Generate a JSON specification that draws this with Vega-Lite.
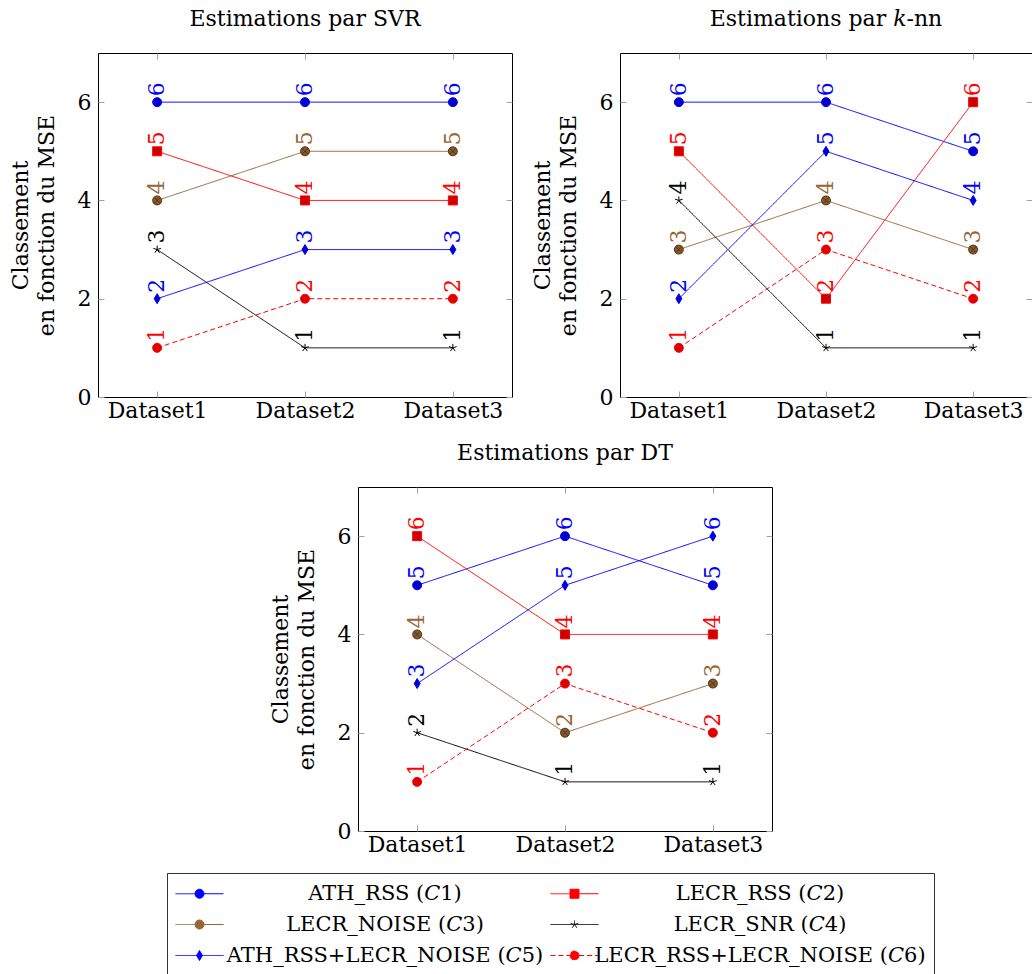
{
  "$schema": "https://vega.github.io/schema/vega-lite/v6.json",
  "padding": {"left": 8, "top": 7, "right": 0, "bottom": 0},
  "background": "white",
  "data": {"values": [
    {"model": "SVR", "dataset": "Dataset1", "serie": "ATH_RSS (𝐶1)", "rank": 6},
    {"model": "SVR", "dataset": "Dataset2", "serie": "ATH_RSS (𝐶1)", "rank": 6},
    {"model": "SVR", "dataset": "Dataset3", "serie": "ATH_RSS (𝐶1)", "rank": 6},
    {"model": "SVR", "dataset": "Dataset1", "serie": "LECR_RSS (𝐶2)", "rank": 5},
    {"model": "SVR", "dataset": "Dataset2", "serie": "LECR_RSS (𝐶2)", "rank": 4},
    {"model": "SVR", "dataset": "Dataset3", "serie": "LECR_RSS (𝐶2)", "rank": 4},
    {"model": "SVR", "dataset": "Dataset1", "serie": "LECR_NOISE (𝐶3)", "rank": 4},
    {"model": "SVR", "dataset": "Dataset2", "serie": "LECR_NOISE (𝐶3)", "rank": 5},
    {"model": "SVR", "dataset": "Dataset3", "serie": "LECR_NOISE (𝐶3)", "rank": 5},
    {"model": "SVR", "dataset": "Dataset1", "serie": "LECR_SNR (𝐶4)", "rank": 3},
    {"model": "SVR", "dataset": "Dataset2", "serie": "LECR_SNR (𝐶4)", "rank": 1},
    {"model": "SVR", "dataset": "Dataset3", "serie": "LECR_SNR (𝐶4)", "rank": 1},
    {"model": "SVR", "dataset": "Dataset1", "serie": "ATH_RSS+LECR_NOISE (𝐶5)", "rank": 2},
    {"model": "SVR", "dataset": "Dataset2", "serie": "ATH_RSS+LECR_NOISE (𝐶5)", "rank": 3},
    {"model": "SVR", "dataset": "Dataset3", "serie": "ATH_RSS+LECR_NOISE (𝐶5)", "rank": 3},
    {"model": "SVR", "dataset": "Dataset1", "serie": "LECR_RSS+LECR_NOISE (𝐶6)", "rank": 1},
    {"model": "SVR", "dataset": "Dataset2", "serie": "LECR_RSS+LECR_NOISE (𝐶6)", "rank": 2},
    {"model": "SVR", "dataset": "Dataset3", "serie": "LECR_RSS+LECR_NOISE (𝐶6)", "rank": 2},
    {"model": "KNN", "dataset": "Dataset1", "serie": "ATH_RSS (𝐶1)", "rank": 6},
    {"model": "KNN", "dataset": "Dataset2", "serie": "ATH_RSS (𝐶1)", "rank": 6},
    {"model": "KNN", "dataset": "Dataset3", "serie": "ATH_RSS (𝐶1)", "rank": 5},
    {"model": "KNN", "dataset": "Dataset1", "serie": "LECR_RSS (𝐶2)", "rank": 5},
    {"model": "KNN", "dataset": "Dataset2", "serie": "LECR_RSS (𝐶2)", "rank": 2},
    {"model": "KNN", "dataset": "Dataset3", "serie": "LECR_RSS (𝐶2)", "rank": 6},
    {"model": "KNN", "dataset": "Dataset1", "serie": "LECR_NOISE (𝐶3)", "rank": 3},
    {"model": "KNN", "dataset": "Dataset2", "serie": "LECR_NOISE (𝐶3)", "rank": 4},
    {"model": "KNN", "dataset": "Dataset3", "serie": "LECR_NOISE (𝐶3)", "rank": 3},
    {"model": "KNN", "dataset": "Dataset1", "serie": "LECR_SNR (𝐶4)", "rank": 4},
    {"model": "KNN", "dataset": "Dataset2", "serie": "LECR_SNR (𝐶4)", "rank": 1},
    {"model": "KNN", "dataset": "Dataset3", "serie": "LECR_SNR (𝐶4)", "rank": 1},
    {"model": "KNN", "dataset": "Dataset1", "serie": "ATH_RSS+LECR_NOISE (𝐶5)", "rank": 2},
    {"model": "KNN", "dataset": "Dataset2", "serie": "ATH_RSS+LECR_NOISE (𝐶5)", "rank": 5},
    {"model": "KNN", "dataset": "Dataset3", "serie": "ATH_RSS+LECR_NOISE (𝐶5)", "rank": 4},
    {"model": "KNN", "dataset": "Dataset1", "serie": "LECR_RSS+LECR_NOISE (𝐶6)", "rank": 1},
    {"model": "KNN", "dataset": "Dataset2", "serie": "LECR_RSS+LECR_NOISE (𝐶6)", "rank": 3},
    {"model": "KNN", "dataset": "Dataset3", "serie": "LECR_RSS+LECR_NOISE (𝐶6)", "rank": 2},
    {"model": "DT", "dataset": "Dataset1", "serie": "ATH_RSS (𝐶1)", "rank": 5},
    {"model": "DT", "dataset": "Dataset2", "serie": "ATH_RSS (𝐶1)", "rank": 6},
    {"model": "DT", "dataset": "Dataset3", "serie": "ATH_RSS (𝐶1)", "rank": 5},
    {"model": "DT", "dataset": "Dataset1", "serie": "LECR_RSS (𝐶2)", "rank": 6},
    {"model": "DT", "dataset": "Dataset2", "serie": "LECR_RSS (𝐶2)", "rank": 4},
    {"model": "DT", "dataset": "Dataset3", "serie": "LECR_RSS (𝐶2)", "rank": 4},
    {"model": "DT", "dataset": "Dataset1", "serie": "LECR_NOISE (𝐶3)", "rank": 4},
    {"model": "DT", "dataset": "Dataset2", "serie": "LECR_NOISE (𝐶3)", "rank": 2},
    {"model": "DT", "dataset": "Dataset3", "serie": "LECR_NOISE (𝐶3)", "rank": 3},
    {"model": "DT", "dataset": "Dataset1", "serie": "LECR_SNR (𝐶4)", "rank": 2},
    {"model": "DT", "dataset": "Dataset2", "serie": "LECR_SNR (𝐶4)", "rank": 1},
    {"model": "DT", "dataset": "Dataset3", "serie": "LECR_SNR (𝐶4)", "rank": 1},
    {"model": "DT", "dataset": "Dataset1", "serie": "ATH_RSS+LECR_NOISE (𝐶5)", "rank": 3},
    {"model": "DT", "dataset": "Dataset2", "serie": "ATH_RSS+LECR_NOISE (𝐶5)", "rank": 5},
    {"model": "DT", "dataset": "Dataset3", "serie": "ATH_RSS+LECR_NOISE (𝐶5)", "rank": 6},
    {"model": "DT", "dataset": "Dataset1", "serie": "LECR_RSS+LECR_NOISE (𝐶6)", "rank": 1},
    {"model": "DT", "dataset": "Dataset2", "serie": "LECR_RSS+LECR_NOISE (𝐶6)", "rank": 3},
    {"model": "DT", "dataset": "Dataset3", "serie": "LECR_RSS+LECR_NOISE (𝐶6)", "rank": 2}
  ]},
  "vconcat": [
    {
      "hconcat": [
        {
          "title": "Estimations par SVR",
          "width": 414, "height": 344,
          "transform": [{"filter": "datum.model === 'SVR'"}],
          "encoding": {
            "x": {"field": "dataset", "type": "ordinal", "scale": {"type": "point", "padding": 0.4}, "axis": null},
            "y": {"field": "rank", "type": "quantitative", "scale": {"domain": [0, 7]}, "axis": null}
          },
          "layer": [
            {"mark": {"type": "line", "strokeWidth": 1},
             "encoding": {
               "x": {"field": "dataset", "type": "ordinal", "axis": {"orient": "bottom", "title": null, "labelAngle": 0, "labelPadding": 9}},
               "y": {"field": "rank", "type": "quantitative", "axis": {"orient": "left", "values": [0, 2, 4, 6], "labelPadding": 13, "title": ["Classement", "en fonction du MSE"], "titlePadding": 19}},
               "stroke": {"field": "serie", "type": "nominal", "scale": {"domain": ["ATH_RSS (𝐶1)", "LECR_RSS (𝐶2)", "LECR_NOISE (𝐶3)", "LECR_SNR (𝐶4)", "ATH_RSS+LECR_NOISE (𝐶5)", "LECR_RSS+LECR_NOISE (𝐶6)"], "range": ["#0000ff", "#ff0000", "#996633", "#000000", "#0000ff", "#ff0000"]}},
               "strokeDash": {"field": "serie", "type": "nominal", "scale": {"domain": ["ATH_RSS (𝐶1)", "LECR_RSS (𝐶2)", "LECR_NOISE (𝐶3)", "LECR_SNR (𝐶4)", "ATH_RSS+LECR_NOISE (𝐶5)", "LECR_RSS+LECR_NOISE (𝐶6)"], "range": [[1, 0], [1, 0], [1, 0], [1, 0], [1, 0], [5, 3]]}}
             }},
            {"transform": [{"filter": {"field": "serie", "equal": "ATH_RSS (𝐶1)"}}],
             "mark": {"type": "point", "size": 100, "strokeWidth": 1, "opacity": 1, "fill": "#0000cc", "stroke": "#0000ff", "fillOpacity": 1, "shape": "M0.9,0A0.9,0.9,0,1,1,-0.9,0A0.9,0.9,0,1,1,0.9,0Z"}},
            {"transform": [{"filter": {"field": "serie", "equal": "LECR_RSS (𝐶2)"}}],
             "mark": {"type": "point", "size": 100, "strokeWidth": 1, "opacity": 1, "fill": "#cc0000", "stroke": "#ff0000", "fillOpacity": 1, "shape": "M-0.9,-0.9H0.9V0.9H-0.9Z"}},
            {"transform": [{"filter": {"field": "serie", "equal": "LECR_NOISE (𝐶3)"}}],
             "mark": {"type": "point", "size": 100, "strokeWidth": 1, "opacity": 1, "fill": "#8b5a2b", "stroke": "#4d3319", "fillOpacity": 1, "shape": "M0.9,0A0.9,0.9,0,1,1,-0.9,0A0.9,0.9,0,1,1,0.9,0ZM-0.64,-0.64L0.64,0.64M-0.64,0.64L0.64,-0.64"}},
            {"transform": [{"filter": {"field": "serie", "equal": "LECR_SNR (𝐶4)"}}],
             "mark": {"type": "point", "size": 100, "strokeWidth": 1, "opacity": 1, "fill": "#000000", "stroke": "#000000", "shape": "M0,0L0,-0.8M0,0L0.76,-0.25M0,0L0.47,0.65M0,0L-0.47,0.65M0,0L-0.76,-0.25"}},
            {"transform": [{"filter": {"field": "serie", "equal": "ATH_RSS+LECR_NOISE (𝐶5)"}}],
             "mark": {"type": "point", "size": 100, "strokeWidth": 1, "opacity": 1, "fill": "#0000cc", "stroke": "#0000ff", "fillOpacity": 1, "shape": "M0,-1L0.6,0L0,1L-0.6,0Z"}},
            {"transform": [{"filter": {"field": "serie", "equal": "LECR_RSS+LECR_NOISE (𝐶6)"}}],
             "mark": {"type": "point", "size": 100, "strokeWidth": 1, "opacity": 1, "fill": "#dd0000", "stroke": "#ff0000", "fillOpacity": 1, "shape": "M0.9,0A0.9,0.9,0,1,1,-0.9,0A0.9,0.9,0,1,1,0.9,0Z"}},
            {"mark": {"type": "text", "angle": 270, "align": "left", "baseline": "middle", "dx": 6, "font": "DejaVu Serif", "fontSize": 22},
             "encoding": {
               "x": {"field": "dataset", "type": "ordinal", "axis": {"orient": "top", "title": null, "labels": false}},
               "y": {"field": "rank", "type": "quantitative", "axis": {"orient": "right", "values": [0, 2, 4, 6], "title": null, "labels": false}},
               "fill": {"field": "serie", "type": "nominal", "scale": {"domain": ["ATH_RSS (𝐶1)", "LECR_RSS (𝐶2)", "LECR_NOISE (𝐶3)", "LECR_SNR (𝐶4)", "ATH_RSS+LECR_NOISE (𝐶5)", "LECR_RSS+LECR_NOISE (𝐶6)"], "range": ["#0000ff", "#ff0000", "#996633", "#000000", "#0000ff", "#ff0000"]}},
               "text": {"field": "rank", "type": "quantitative"}
             }}
          ],
          "resolve": {"axis": {"x": "independent", "y": "independent"}}
        },
        {
          "title": "Estimations par 𝑘-nn",
          "width": 412, "height": 344,
          "transform": [{"filter": "datum.model === 'KNN'"}],
          "encoding": {
            "x": {"field": "dataset", "type": "ordinal", "scale": {"type": "point", "padding": 0.4}, "axis": null},
            "y": {"field": "rank", "type": "quantitative", "scale": {"domain": [0, 7]}, "axis": null}
          },
          "layer": [
            {"mark": {"type": "line", "strokeWidth": 1},
             "encoding": {
               "x": {"field": "dataset", "type": "ordinal", "axis": {"orient": "bottom", "title": null, "labelAngle": 0, "labelPadding": 9}},
               "y": {"field": "rank", "type": "quantitative", "axis": {"orient": "left", "values": [0, 2, 4, 6], "labelPadding": 13, "title": ["Classement", "en fonction du MSE"], "titlePadding": 19}},
               "stroke": {"field": "serie", "type": "nominal"},
               "strokeDash": {"field": "serie", "type": "nominal"}
             }},
            {"transform": [{"filter": {"field": "serie", "equal": "ATH_RSS (𝐶1)"}}],
             "mark": {"type": "point", "size": 100, "strokeWidth": 1, "opacity": 1, "fill": "#0000cc", "stroke": "#0000ff", "fillOpacity": 1, "shape": "M0.9,0A0.9,0.9,0,1,1,-0.9,0A0.9,0.9,0,1,1,0.9,0Z"}},
            {"transform": [{"filter": {"field": "serie", "equal": "LECR_RSS (𝐶2)"}}],
             "mark": {"type": "point", "size": 100, "strokeWidth": 1, "opacity": 1, "fill": "#cc0000", "stroke": "#ff0000", "fillOpacity": 1, "shape": "M-0.9,-0.9H0.9V0.9H-0.9Z"}},
            {"transform": [{"filter": {"field": "serie", "equal": "LECR_NOISE (𝐶3)"}}],
             "mark": {"type": "point", "size": 100, "strokeWidth": 1, "opacity": 1, "fill": "#8b5a2b", "stroke": "#4d3319", "fillOpacity": 1, "shape": "M0.9,0A0.9,0.9,0,1,1,-0.9,0A0.9,0.9,0,1,1,0.9,0ZM-0.64,-0.64L0.64,0.64M-0.64,0.64L0.64,-0.64"}},
            {"transform": [{"filter": {"field": "serie", "equal": "LECR_SNR (𝐶4)"}}],
             "mark": {"type": "point", "size": 100, "strokeWidth": 1, "opacity": 1, "fill": "#000000", "stroke": "#000000", "shape": "M0,0L0,-0.8M0,0L0.76,-0.25M0,0L0.47,0.65M0,0L-0.47,0.65M0,0L-0.76,-0.25"}},
            {"transform": [{"filter": {"field": "serie", "equal": "ATH_RSS+LECR_NOISE (𝐶5)"}}],
             "mark": {"type": "point", "size": 100, "strokeWidth": 1, "opacity": 1, "fill": "#0000cc", "stroke": "#0000ff", "fillOpacity": 1, "shape": "M0,-1L0.6,0L0,1L-0.6,0Z"}},
            {"transform": [{"filter": {"field": "serie", "equal": "LECR_RSS+LECR_NOISE (𝐶6)"}}],
             "mark": {"type": "point", "size": 100, "strokeWidth": 1, "opacity": 1, "fill": "#dd0000", "stroke": "#ff0000", "fillOpacity": 1, "shape": "M0.9,0A0.9,0.9,0,1,1,-0.9,0A0.9,0.9,0,1,1,0.9,0Z"}},
            {"mark": {"type": "text", "angle": 270, "align": "left", "baseline": "middle", "dx": 6, "font": "DejaVu Serif", "fontSize": 22},
             "encoding": {
               "x": {"field": "dataset", "type": "ordinal", "axis": {"orient": "top", "title": null, "labels": false}},
               "y": {"field": "rank", "type": "quantitative", "axis": {"orient": "right", "values": [0, 2, 4, 6], "title": null, "labels": false}},
               "fill": {"field": "serie", "type": "nominal"},
               "text": {"field": "rank", "type": "quantitative"}
             }}
          ],
          "resolve": {"axis": {"x": "independent", "y": "independent"}}
        }
      ],
      "spacing": 17
    },
    {
      "title": "Estimations par DT",
      "width": 414, "height": 344,
      "transform": [{"filter": "datum.model === 'DT'"}],
      "encoding": {
        "x": {"field": "dataset", "type": "ordinal", "scale": {"type": "point", "padding": 0.4}, "axis": null},
        "y": {"field": "rank", "type": "quantitative", "scale": {"domain": [0, 7]}, "axis": null}
      },
      "layer": [
        {"mark": {"type": "line", "strokeWidth": 1},
         "encoding": {
           "x": {"field": "dataset", "type": "ordinal", "axis": {"orient": "bottom", "title": null, "labelAngle": 0, "labelPadding": 9}},
           "y": {"field": "rank", "type": "quantitative", "axis": {"orient": "left", "values": [0, 2, 4, 6], "labelPadding": 13, "title": ["Classement", "en fonction du MSE"], "titlePadding": 19}},
           "stroke": {"field": "serie", "type": "nominal"},
           "strokeDash": {"field": "serie", "type": "nominal"}
         }},
        {"transform": [{"filter": {"field": "serie", "equal": "ATH_RSS (𝐶1)"}}],
         "mark": {"type": "point", "size": 100, "strokeWidth": 1, "opacity": 1, "fill": "#0000cc", "stroke": "#0000ff", "fillOpacity": 1, "shape": "M0.9,0A0.9,0.9,0,1,1,-0.9,0A0.9,0.9,0,1,1,0.9,0Z"}},
        {"transform": [{"filter": {"field": "serie", "equal": "LECR_RSS (𝐶2)"}}],
         "mark": {"type": "point", "size": 100, "strokeWidth": 1, "opacity": 1, "fill": "#cc0000", "stroke": "#ff0000", "fillOpacity": 1, "shape": "M-0.9,-0.9H0.9V0.9H-0.9Z"}},
        {"transform": [{"filter": {"field": "serie", "equal": "LECR_NOISE (𝐶3)"}}],
         "mark": {"type": "point", "size": 100, "strokeWidth": 1, "opacity": 1, "fill": "#8b5a2b", "stroke": "#4d3319", "fillOpacity": 1, "shape": "M0.9,0A0.9,0.9,0,1,1,-0.9,0A0.9,0.9,0,1,1,0.9,0ZM-0.64,-0.64L0.64,0.64M-0.64,0.64L0.64,-0.64"}},
        {"transform": [{"filter": {"field": "serie", "equal": "LECR_SNR (𝐶4)"}}],
         "mark": {"type": "point", "size": 100, "strokeWidth": 1, "opacity": 1, "fill": "#000000", "stroke": "#000000", "shape": "M0,0L0,-0.8M0,0L0.76,-0.25M0,0L0.47,0.65M0,0L-0.47,0.65M0,0L-0.76,-0.25"}},
        {"transform": [{"filter": {"field": "serie", "equal": "ATH_RSS+LECR_NOISE (𝐶5)"}}],
         "mark": {"type": "point", "size": 100, "strokeWidth": 1, "opacity": 1, "fill": "#0000cc", "stroke": "#0000ff", "fillOpacity": 1, "shape": "M0,-1L0.6,0L0,1L-0.6,0Z"}},
        {"transform": [{"filter": {"field": "serie", "equal": "LECR_RSS+LECR_NOISE (𝐶6)"}}],
         "mark": {"type": "point", "size": 100, "strokeWidth": 1, "opacity": 1, "fill": "#dd0000", "stroke": "#ff0000", "fillOpacity": 1, "shape": "M0.9,0A0.9,0.9,0,1,1,-0.9,0A0.9,0.9,0,1,1,0.9,0Z"}},
        {"mark": {"type": "point", "filled": true, "strokeWidth": 1, "opacity": 0},
         "encoding": {
           "shape": {"field": "serie", "type": "nominal",
             "scale": {"domain": ["ATH_RSS (𝐶1)", "LECR_RSS (𝐶2)", "LECR_NOISE (𝐶3)", "LECR_SNR (𝐶4)", "ATH_RSS+LECR_NOISE (𝐶5)", "LECR_RSS+LECR_NOISE (𝐶6)"],
               "range": [
                 "M-1,0H0.625M1.375,0H3M1.375,0A0.375,0.375,0,1,1,0.625,0A0.375,0.375,0,1,1,1.375,0Z",
                 "M-1,0H0.625M1.375,0H3M0.625,-0.375H1.375V0.375H0.625Z",
                 "M-1,0H0.625M1.375,0H3M1.375,0A0.375,0.375,0,1,1,0.625,0A0.375,0.375,0,1,1,1.375,0ZM0.735,-0.265L1.265,0.265M0.735,0.265L1.265,-0.265",
                 "M-1,0H3M1,0L1,-0.33M1,0L1.314,-0.102M1,0L1.194,0.267M1,0L0.806,0.267M1,0L0.686,-0.102",
                 "M-1,0H0.75M1.25,0H3M1,-0.42L1.25,0L1,0.42L0.75,0Z",
                 "M-1,0H0.625M1.375,0H3M1.375,0A0.375,0.375,0,1,1,0.625,0A0.375,0.375,0,1,1,1.375,0Z"]},
             "legend": {"orient": "none", "legendX": 69, "legendY": 820, "direction": "horizontal", "columns": 2}},
           "fill": {"field": "serie", "type": "nominal"},
           "stroke": {"field": "serie", "type": "nominal"}
         }},
        {"mark": {"type": "text", "angle": 270, "align": "left", "baseline": "middle", "dx": 6, "font": "DejaVu Serif", "fontSize": 22},
         "encoding": {
           "x": {"field": "dataset", "type": "ordinal", "axis": {"orient": "top", "title": null, "labels": false}},
           "y": {"field": "rank", "type": "quantitative", "axis": {"orient": "right", "values": [0, 2, 4, 6], "title": null, "labels": false}},
           "fill": {"field": "serie", "type": "nominal"},
           "text": {"field": "rank", "type": "quantitative"}
         }}
      ],
      "resolve": {"axis": {"x": "independent", "y": "independent"}}
    }
  ],
  "spacing": 19,
  "center": true,
  "config": {
    "view": {"stroke": "#000000", "strokeWidth": 1},
    "font": "DejaVu Serif",
    "title": {"font": "DejaVu Serif", "fontSize": 22, "fontWeight": "normal", "color": "#000000", "offset": 22},
    "axis": {"labelFont": "DejaVu Serif", "labelFontSize": 22, "labelColor": "#000000", "titleFont": "DejaVu Serif", "titleFontSize": 22, "titleFontWeight": "normal", "titleColor": "#000000", "titleLineHeight": 26, "tickColor": "#a0a0a0", "tickSize": -6, "domain": false, "grid": false, "labelFlush": false},
    "legend": {
      "orient": "none", "direction": "horizontal",
      "title": null, "columns": 2, "columnPadding": 4, "rowPadding": 8,
      "padding": 8, "strokeColor": "#333333", "fillColor": "#ffffff",
      "symbolSize": 576, "symbolStrokeWidth": 1, "symbolOpacity": 1,
      "labelFont": "DejaVu Serif", "labelFontSize": 21, "labelColor": "#000000",
      "labelAlign": "center", "labelOffset": 185, "labelLimit": 0
    }
  }
}
